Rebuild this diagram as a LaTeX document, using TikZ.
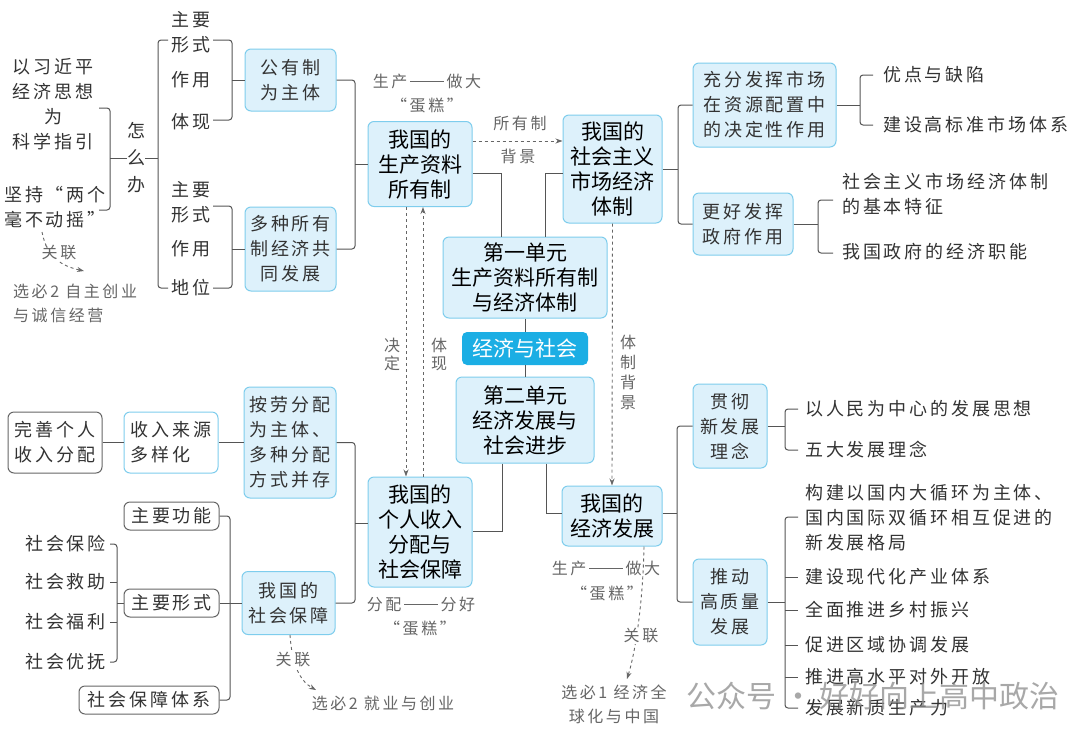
\documentclass[tikz,border=0pt]{standalone}
\usepackage{fontspec}
\setmainfont{Noto Sans CJK SC}
\newfontfamily\fmain{Noto Sans CJK SC}
\newfontfamily\fsub[LetterSpace=16]{Noto Sans CJK SC}
\usetikzlibrary{arrows.meta,calc}
\definecolor{bfill}{HTML}{DDF1FB}
\definecolor{bline}{HTML}{7ECDED}
\definecolor{rootc}{HTML}{1BAEE4}
\definecolor{lnc}{HTML}{555555}
\definecolor{subc}{HTML}{333333}
\definecolor{annc}{HTML}{666666}
\newcommand{\dashbar}{\,\rule[5.5pt]{34pt}{0.8pt}\,}
\tikzset{
 mainbox/.style={draw=bline, fill=bfill, rounded corners=6pt, line width=1pt, align=center, inner sep=0pt, font=\fmain\fontsize{21}{25}\selectfont, text=black},
 subbox/.style={mainbox, font=\fsub\fontsize{18}{25}\selectfont, text=subc},
 wbox/.style={subbox, fill=white, draw=lnc!90},
 wbbox/.style={subbox, fill=white},
 rootbox/.style={fill=rootc, rounded corners=5pt, inner sep=0pt, text=white, font=\fmain\fontsize{21}{25}\selectfont},
 txt/.style={inner sep=0pt, align=center, text=subc, font=\fsub\fontsize{18}{25}\selectfont},
 ann/.style={inner sep=0pt, align=center, text=annc, font=\fsub\fontsize{16}{24}\selectfont},
 conn/.style={draw=lnc, line width=1pt},
 brk/.style={conn, rounded corners=3pt},
 dashline/.style={draw=annc, line width=0.9pt, dash pattern=on 3pt off 3pt, -{Stealth[length=7pt,width=5pt]}},
 sz/.style 2 args={minimum width=#1, minimum height=#2},
}
\begin{document}
\begin{tikzpicture}[x=1pt,y=-1pt]
\fill[white] (0,0) rectangle (1080,740);
\useasboundingbox (0,0) rectangle (1080,740);

% ---------- top-left ----------
\node[txt] (t1) at (53,104) {以习近平\\经济思想\\为\\科学指引};
\node[txt] (t2) at (55,207) {坚持“两个\\毫不动摇”};
\node[txt, font=\fsub\fontsize{18}{27}\selectfont] (zmb) at (136,158) {怎\\么\\办};
\draw[brk] (99,108) -| (110,210) -- (99,210);
\draw[conn] (110,158) -- (zmb.west);
\draw[conn] (zmb.east) -- (158,158);
\draw[brk] (168,40) -| (158,288) -- (168,288);

\node[txt] (a1) at (191,32) {主要\\形式};
\node[txt] (a2) at (191,80) {作用};
\node[txt] (a3) at (191,122) {体现};
\node[txt] (a4) at (191,202) {主要\\形式};
\node[txt] (a5) at (191,249) {作用};
\node[txt] (a6) at (191,288) {地位};

\node[subbox, sz={91}{62}] (gy1) at (290.5,80) {公有制\\为主体};
\node[subbox, sz={91}{84}] (gy2) at (290.5,249) {多种所有\\制经济共\\同发展};
\draw[brk] (213,40) -| (232,120) -- (213,120);
\draw[conn] (a2.east -| 232,0) -- (gy1.west);
\draw[brk] (213,206) -| (232,288) -- (213,288);
\draw[conn] (a5.east -| 232,0) -- (gy2.west);

\node[ann, align=left, anchor=west] (s1) at (13,303) {选必2 自主创业\\与诚信经营};
\draw[dashline] (42,232) .. controls (47,258) and (62,266) .. (84,271);
\node[ann, fill=white, inner sep=1pt] (gl1) at (59,253) {关联};

% ---------- centre ----------
\node[mainbox, sz={104}{85}] (sc1) at (420,164) {我国的\\生产资料\\所有制};
\draw[brk] (gy1.east) -| (355,249) -- (gy2.east);
\draw[conn] (355,164) -- (sc1.west);
\node[ann] (p1) at (427,81) {生产\dashbar 做大};
\node[ann] (p2) at (427,105) {“蛋糕”};

\node[mainbox, sz={99}{108}] (sc2) at (612.5,169) {我国的\\社会主义\\市场经济\\体制};
\draw[dashline] (sc1.east |- 0,141) -- (sc2.west |- 0,141);
\node[ann] at (520,123) {所有制};
\node[ann] at (518,156) {背景};

\node[mainbox, sz={164}{81}] (u1) at (525,277.5) {第一单元\\生产资料所有制\\与经济体制};
\draw[conn] (sc1.east |- 0,173) -| (u1.north -| 501,0);
\draw[conn] (u1.north -| 545,0) |- (sc2.west |- 0,173);

\node[rootbox, sz={126}{33}] (root) at (525,348.5) {经济与社会};
\draw[conn] (u1.south) -- (root.north);

\node[mainbox, sz={138}{86}] (u2) at (525,420) {第二单元\\经济发展与\\社会进步};
\draw[conn] (root.south) -- (u2.north);

\node[mainbox, sz={104}{110}] (pd) at (420,532) {我国的\\个人收入\\分配与\\社会保障};
\draw[conn] (u2.south -| 502,0) |- (pd.east |- 0,531);
\node[mainbox, sz={100}{60}] (ed) at (612,516) {我国的\\经济发展};
\draw[conn] (u2.south -| 546,0) |- (ed.west |- 0,513);

\draw[dashline] (sc1.south -| 406,0) -- (pd.north -| 406,0);
\draw[dashline] (pd.north -| 423,0) -- (sc1.south -| 423,0);
\node[ann, font=\fsub\fontsize{16}{18}\selectfont] at (392,354) {决\\定};
\node[ann, font=\fsub\fontsize{16}{18}\selectfont] at (439,354) {体\\现};
\draw[dashline] (sc2.south) -- (ed.north);
\node[ann, font=\fsub\fontsize{16}{20}\selectfont] at (628,372) {体\\制\\背\\景};

\node[ann] (p3) at (421,604) {分配\dashbar 分好};
\node[ann] (p4) at (420,628) {“蛋糕”};
\node[ann] (p5) at (606,568) {生产\dashbar 做大};
\node[ann] (p6) at (607,593) {“蛋糕”};

\node[ann] (s3) at (614,704) {选必1 经济全\\球化与中国};
\draw[dashline] (ed.south -| 644,0) .. controls (643,600) and (636,650) .. (627,679);
\node[ann, fill=white, inner sep=1pt] at (641,636) {关联};

% ---------- top-right ----------
\node[subbox, sz={143}{84}] (m1) at (764.5,105) {充分发挥市场\\在资源配置中\\的决定性作用};
\node[subbox, sz={100}{62}] (m2) at (743,224) {更好发挥\\政府作用};
\draw[conn] (sc2.east) -- (678,169);
\draw[brk] (m1.west) -| (678,224) -- (m2.west);

\draw[conn] (m1.east) -- (860,105);
\draw[brk] (873,75) -| (860,125) -- (873,125);
\node[txt, anchor=west] (r1) at (883,75) {优点与缺陷};
\node[txt, anchor=west] (r2) at (883,125) {建设高标准市场体系};

\draw[conn] (m2.east) -- (818,224);
\draw[brk] (833,200) -| (818,253) -- (833,253);
\node[txt, anchor=west, align=left] (r3) at (842,194.5) {社会主义市场经济体制\\的基本特征};
\node[txt, anchor=west] (r4) at (842,252) {我国政府的经济职能};

% ---------- bottom-left ----------
\node[wbox, sz={94}{61}] (c1) at (55,442.5) {完善个人\\收入分配};
\node[wbbox, sz={94}{61}, align=left] (c2) at (171,442.5) {收入来源\\多样化};
\node[subbox, sz={92}{111}, align=left] (c3) at (290,442.5) {按劳分配\\为主体、\\多种分配\\方式并存};
\draw[conn] (c1.east) -- (c2.west);
\draw[conn] (c2.east) -- (c3.west);

\node[subbox, sz={93}{63}] (c4) at (288.5,603) {我国的\\社会保障};
\draw[brk] (c3.east) -| (355,603) -- (c4.east);
\draw[conn] (355,523) -- (pd.west |- 0,523);

\node[wbox, sz={95}{28}] (c5) at (171.5,516) {主要功能};
\node[wbox, sz={95}{28}] (c6) at (171.5,603) {主要形式};
\node[wbox, sz={140}{28}] (c7) at (149,700) {社会保障体系};
\draw[brk] (c5.east) -| (230,700) -- (c7.east);
\draw[conn] (c6.east) -- (c4.west);

\node[txt, anchor=east] (f1) at (106,544) {社会保险};
\node[txt, anchor=east] (f2) at (106,582) {社会救助};
\node[txt, anchor=east] (f3) at (106,622) {社会福利};
\node[txt, anchor=east] (f4) at (106,662) {社会优抚};
\draw[brk] (110,544) -| (117,662) -- (110,662);
\draw[conn] (110,582) -- (117,582);
\draw[conn] (110,622) -- (117,622);
\draw[conn] (117,603) -- (c6.west);

\node[ann] (s2) at (383,703) {选必2 就业与创业};
\draw[dashline] (c4.south -| 290,0) .. controls (292,665) and (300,681) .. (316,690);
\node[ann, fill=white, inner sep=1pt] at (293,660) {关联};

% ---------- bottom-right ----------
\node[subbox, sz={74}{84}] (g1) at (730,426) {贯彻\\新发展\\理念};
\node[subbox, sz={74}{86}] (g2) at (730,602) {推动\\高质量\\发展};
\draw[conn] (ed.east |- 0,513) -- (677,513);
\draw[brk] (g1.west) -| (677,602) -- (g2.west);

\draw[conn] (g1.east) -- (785,426);
\draw[brk] (798,409) -| (785,450) -- (798,450);
\node[txt, anchor=west] (h01) at (805,409) {以人民为中心的发展思想};
\node[txt, anchor=west] (h02) at (805,450) {五大发展理念};

\draw[conn] (g2.east) -- (785,602);
\draw[brk] (798,517) -| (785,708) -- (798,708);
\foreach \yy in {577,610,645,677} \draw[conn] (785,\yy) -- (798,\yy);
\node[txt, anchor=west, align=left] (h1) at (805,517.5) {构建以国内大循环为主体、\\国内国际双循环相互促进的\\新发展格局};
\node[txt, anchor=west] (h2) at (805,577) {建设现代化产业体系};
\node[txt, anchor=west] (h3) at (805,610) {全面推进乡村振兴};
\node[txt, anchor=west] (h4) at (805,645) {促进区域协调发展};
\node[txt, anchor=west] (h5) at (805,677) {推进高水平对外开放};
\node[txt, anchor=west] (h6) at (805,708) {发展新质生产力};

% ---------- watermark ----------
\node[anchor=west, font=\fmain\fontsize{30}{30}\selectfont, text=black!45, opacity=0.75] (wm) at (683,696) {公众号 · 好好向上高中政治};
\end{tikzpicture}
\end{document}
